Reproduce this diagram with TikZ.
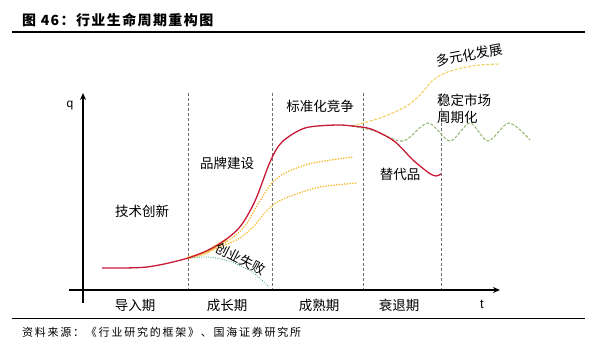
\documentclass[tikz,border=0pt]{standalone}
\usepackage{fontspec}
\setmainfont{Liberation Sans}
\newfontfamily\cjk{Noto Sans CJK SC}
\newfontfamily\cjksrc{Noto Sans CJK SC}[LetterSpace=16]
\newfontfamily\cjktitle{Noto Sans CJK SC}[LetterSpace=10]
\usetikzlibrary{arrows.meta}
\definecolor{crv}{RGB}{200,25,55}
\definecolor{orng}{RGB}{246,184,40}
\definecolor{ylw}{RGB}{238,206,92}
\definecolor{grn}{RGB}{150,186,120}
\definecolor{teal2}{RGB}{70,165,140}
\definecolor{grid}{RGB}{110,110,110}
\tikzset{
  lbl/.style={font=\cjk\fontsize{13.5}{15}\selectfont, inner sep=0pt},
  axisline/.style={line width=1.4pt, -{Stealth[length=7pt,width=6pt]}},
  phaseline/.style={draw=grid, line width=0.7pt, dash pattern=on 3pt off 2pt},
  redcurve/.style={draw=crv, line width=1.3pt},
  orangedots/.style={draw=orng, line width=1.7pt, line cap=round, dash pattern=on 0.1pt off 2.6pt},
  yellowdash/.style={draw=ylw, line width=1.1pt, dash pattern=on 3pt off 1.6pt},
  greendash/.style={draw=grn, line width=1.1pt, dash pattern=on 3pt off 1.6pt},
  faildots/.style={draw=teal2, line width=1.1pt, line cap=round, dash pattern=on 0.1pt off 2.2pt},
}
\begin{document}
\begin{tikzpicture}[x=1pt,y=-1pt]
\useasboundingbox (0,0) rectangle (605,346);
% title and rules
\node[anchor=west, inner sep=0pt] (title) at (22,20) {\cjktitle\bfseries\fontsize{14}{16}\selectfont 图 46：行业生命周期重构图};
\draw[line width=1.3pt] (12,32) -- (585,32);
\draw[line width=1pt] (12,318) -- (585,318);
\node[anchor=west, inner sep=0pt] (src) at (22,332) {\cjksrc\fontsize{11}{13}\selectfont 资料来源：《行业研究的框架》、国海证券研究所};
% phase separators
\foreach \x/\n in {188/a,272/b,363/c,441/d}{
  \coordinate (top\n) at (\x,93);
  \coordinate (bot\n) at (\x,290);
  \draw[phaseline] (top\n) -- (bot\n);
}
% axes
\coordinate (ybot) at (83,303);
\coordinate (ytop) at (83,93);
\coordinate (xleft) at (69,290);
\coordinate (xright) at (500,290);
\draw[axisline] (ybot) -- (ytop);
\draw[axisline] (xleft) -- (xright);
\node[font=\fontsize{12}{14}\selectfont, inner sep=0pt] (q) at (70,106) {q};
\node[font=\fontsize{13}{15}\selectfont, inner sep=0pt] (t) at (482,304) {t};
% phase labels
\node[lbl] (p1) at (135,305) {导入期};
\node[lbl] (p2) at (227,305) {成长期};
\node[lbl] (p3) at (319,305) {成熟期};
\node[lbl] (p4) at (399,305) {衰退期};
% curves
\draw[orng, opacity=0.55, line width=3.2pt, line cap=round] plot[smooth] coordinates {(188,258) (205,253) (216,246) (226,240)};
\draw[faildots] plot[smooth] coordinates {(188,258) (208,257) (225,260) (239,265) (255,274) (270,288)};
\draw[orangedots] plot[smooth] coordinates {(188,258) (210,250) (228,241) (245,226) (258,204) (272,183) (287,172) (313,163) (353,157)};
\draw[orangedots] plot[smooth] coordinates {(188,258) (210,251) (225,245) (240,238) (253,227) (264,214) (273,205) (288,197) (320,187) (358,183)};
\draw[yellowdash] plot[smooth] coordinates {(352,126) (380,118) (405,107) (420,95) (432,81) (445,73) (462,68) (480,65) (500,64)};
\draw[greendash] plot[smooth] coordinates {(352,126) (375,131) (403,141) (428,123) (450,141) (470,123) (488,141) (509,123) (530,140)};
\draw[redcurve] plot[smooth] coordinates {(102,268) (147,267) (188,258) (216,246) (239,228) (255,201) (270,162) (282,142) (305,128) (336,125) (352,126) (371,129) (394,141) (413,160) (429,173) (436,176) (441,174)};
% stage labels
\node[lbl] (l1) at (142,211) {技术创新};
\node[lbl] (l2) at (227,163) {品牌建设};
\node[lbl] (l3) at (320,106) {标准化竞争};
\node[lbl, rotate=-27] (l4) at (241,259) {创业失败};
\node[lbl] (l5) at (400,174) {替代品};
\node[lbl, rotate=11] (l6) at (469,55) {多元化发展};
\node[lbl, anchor=west] (l7) at (437,100) {稳定市场};
\node[lbl, anchor=west] (l8) at (437,117) {周期化};
\end{tikzpicture}
\end{document}
